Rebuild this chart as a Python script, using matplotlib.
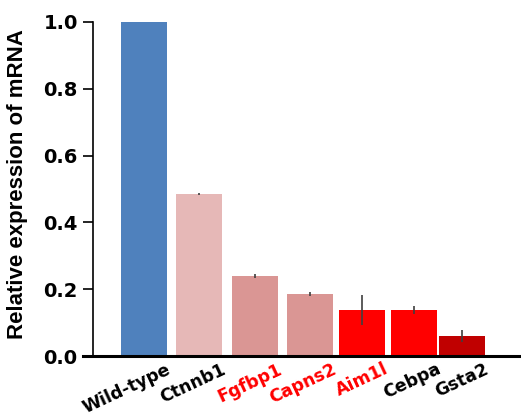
import numpy as np
import matplotlib
matplotlib.use('Agg')
import matplotlib.pyplot as plt

genes = ['Wild-type', 'Ctnnb1', 'Fgfbp1', 'Capns2', 'Aim1l', 'Cebpa', 'Gsta2']
expression = [1.0, 0.485, 0.240, 0.186, 0.138, 0.138, 0.060]
errors = [0.0, 0.004, 0.005, 0.005, 0.045, 0.013, 0.018]
bar_colors = ['#4f81bd', '#e6b8b7', '#da9694', '#da9694', '#ff0000', '#ff0000', '#c00000']
label_colors = ['black', 'black', 'red', 'red', 'red', 'black', 'black']

# slightly uneven slot positions, as in the original figure
slots = [0, 1.04, 2.09, 3.13, 4.11, 5.09, 6.0]
width = 0.87

plt.rcParams['font.family'] = ['DejaVu Sans']
fig = plt.figure(figsize=(5.21, 4.16), dpi=100)
ax = fig.add_axes([83 / 521, 1 - 356 / 416, 436 / 521, 334 / 416])

ax.bar(slots, expression, width=width, color=bar_colors, zorder=2)
ax.errorbar(slots[1:], expression[1:], yerr=errors[1:], fmt='none',
            ecolor='#404040', elinewidth=1.2, capsize=0, zorder=3)

ax.set_xlim(-1.15, 7.08)
ax.set_ylim(0, 1.0)

for s in ['top', 'right']:
    ax.spines[s].set_visible(False)
ax.spines['bottom'].set_linewidth(2.2)
ax.spines['left'].set_linewidth(1.2)
ax.spines['left'].set_position(('axes', 10 / 436))
ax.spines['left'].set_bounds(0, 1.0)

ax.set_yticks([0, 0.2, 0.4, 0.6, 0.8, 1.0])
ax.set_yticklabels(['0.0', '0.2', '0.4', '0.6', '0.8', '1.0'],
                   fontsize=14, fontweight='bold')
ax.tick_params(axis='y', length=7, width=1.2, pad=4)

ax.set_xticks([s + 0.42 for s in slots])
ax.set_xticklabels(genes, rotation=25, ha='right', rotation_mode='anchor',
                   fontsize=12.5, fontweight='bold')
for lbl, c in zip(ax.get_xticklabels(), label_colors):
    lbl.set_color(c)
ax.tick_params(axis='x', length=0, pad=3)

ax.set_ylabel('Relative expression of mRNA', fontsize=16, fontweight='bold',
              family='Liberation Sans')
ax.yaxis.set_label_coords(-0.125, 0.515)

fig.savefig('out.png', dpi=100)
